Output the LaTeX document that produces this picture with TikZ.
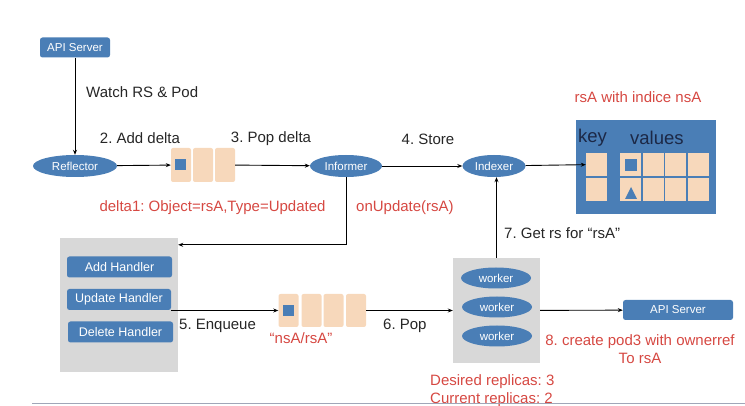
\documentclass[tikz,border=0pt]{standalone}
\usepackage{fontspec}
\setmainfont{Liberation Sans}
\usetikzlibrary{shapes.geometric,arrows.meta,calc}
\definecolor{kblue}{RGB}{74,126,182}
\definecolor{peach}{RGB}{247,216,187}
\definecolor{boxgray}{RGB}{216,216,216}
\definecolor{kred}{RGB}{214,72,66}
\definecolor{navy}{RGB}{28,40,70}
\definecolor{rulecol}{RGB}{160,166,184}
\frenchspacing
\begin{document}
\begin{tikzpicture}[x=1pt,y=-1pt,
  bluerect/.style={rectangle,rounded corners=2.5pt,fill=kblue,text=white,inner sep=0pt,font=\fontsize{11.5}{13}\selectfont},
  blueell/.style={ellipse,fill=kblue,text=white,inner sep=0pt,font=\fontsize{11.5}{13}\selectfont},
  qcell/.style={rectangle,rounded corners=2pt,fill=peach,inner sep=0pt,minimum width=20pt,minimum height=34pt},
  scell/.style={rectangle,fill=peach,inner sep=0pt,minimum width=21pt,minimum height=23pt},
  bsq/.style={rectangle,fill=kblue,inner sep=0pt,minimum size=11pt},
  gbox/.style={rectangle,fill=boxgray,inner sep=0pt},
  arr/.style={draw=black,line width=0.9pt,-{Stealth[length=5pt,width=4pt]}},
  lbl/.style={inner sep=0pt,font=\frenchspacing\fontsize{15}{18}\selectfont,text=black!85},
  rlbl/.style={inner sep=0pt,font=\frenchspacing\fontsize{15}{18}\selectfont,text=kred},
]
\useasboundingbox (0,0) rectangle (745,406);

% top row
\node[bluerect,minimum width=70pt,minimum height=20pt] (api1) at (75,47.5) {API Server};
\node[blueell,minimum width=84pt,minimum height=22pt] (refl) at (75,166) {Reflector};
\node[qcell] (q1a) at (181,165) {};
\node[qcell] (q1b) at (203,165) {};
\node[qcell] (q1c) at (225,165) {};
\node[bsq] (q1sq) at (180.5,164.5) {};
\node[blueell,minimum width=72pt,minimum height=22pt] (inf) at (346,166) {Informer};
\node[blueell,minimum width=63pt,minimum height=22pt] (idx) at (494,166) {Indexer};

% store
\node[rectangle,fill=kblue,inner sep=0pt,minimum width=140pt,minimum height=94pt] (store) at (646,167) {};
\node[anchor=west,inner sep=0pt,font=\fontsize{18.5}{20}\selectfont,text=navy] (keyl) at (578,138) {key};
\node[anchor=west,inner sep=0pt,font=\fontsize{18.5}{20}\selectfont,text=navy] (vall) at (630,138) {values};
\node[scell] (k1) at (596.5,164.5) {};
\node[scell] (k2) at (596.5,190) {};
\node[scell] (v11) at (630.5,164.5) {};
\node[scell] (v12) at (653,164.5) {};
\node[scell] (v13) at (675.5,164.5) {};
\node[scell] (v14) at (698,164.5) {};
\node[scell] (v21) at (630.5,190) {};
\node[scell] (v22) at (653,190) {};
\node[scell] (v23) at (675.5,190) {};
\node[scell] (v24) at (698,190) {};
\node[bsq,minimum size=12pt] (vsq) at (631,165.5) {};
\fill[kblue] (625,199) -- (637,199) -- (631,187) -- cycle;

% handlers
\node[gbox,minimum width=118pt,minimum height=134pt] (hbox) at (119,305) {};
\node[bluerect,minimum width=105pt,minimum height=21pt,font=\fontsize{12.5}{14}\selectfont] (addh) at (119.5,267) {Add Handler};
\node[bluerect,minimum width=104pt,minimum height=21pt,font=\fontsize{12.5}{14}\selectfont] (updh) at (119,299.5) {Update Handler};
\node[bluerect,minimum width=105pt,minimum height=21pt,font=\fontsize{12.5}{14}\selectfont] (delh) at (120.5,332) {Delete Handler};

% queue 2
\node[qcell,minimum height=33pt] (q2a) at (288.5,310.5) {};
\node[qcell,minimum height=33pt] (q2b) at (311.5,310.5) {};
\node[qcell,minimum height=33pt] (q2c) at (333.5,310.5) {};
\node[qcell,minimum height=33pt] (q2d) at (356,310.5) {};
\node[bsq] (q2sq) at (288,311) {};

% workers
\node[gbox,minimum width=87pt,minimum height=105pt] (wbox) at (496.5,310.5) {};
\node[blueell,minimum width=70pt,minimum height=21pt] (w1) at (496,278) {worker};
\node[blueell,minimum width=70pt,minimum height=21pt] (w2) at (497,307) {worker};
\node[blueell,minimum width=70pt,minimum height=21pt] (w3) at (497,336) {worker};
\node[bluerect,minimum width=110pt,minimum height=20pt] (api2) at (678,310) {API Server};

% connectors
\draw[arr] (api1.south) -- (api1.south |- refl.north);
\draw[arr] (refl) -- (q1a);
\draw[arr] (q1c) -- (inf);
\draw[arr] (inf) -- (idx);
\draw[arr] (idx) -- (k1);
\draw[arr] (inf.south) |- ($(hbox.north east)+(0,7)$);
\draw[arr] (updh.east |- q2a) -- (q2a);
\draw[arr] (q2d) -- (wbox);
\draw[arr] (wbox.north) -- (wbox.north |- idx.south);
\draw[arr] (wbox) -- (api2);

% labels
\node[lbl,anchor=west] (watch) at (86,92) {Watch RS \& Pod};
\node[lbl] (addd) at (140,138) {2. Add delta};
\node[lbl] (popd) at (271,139) {3. Pop delta};
\node[lbl] (store4) at (428,139) {4. Store};
\node[rlbl] (delta1) at (212.5,208) {delta1: Object=rsA,Type=Updated};
\node[rlbl,anchor=west] (onupd) at (356,208) {onUpdate(rsA)};
\node[rlbl] (rsaidx) at (638,97) {rsA with indice nsA};
\node[lbl,anchor=west] (get7) at (504,233) {7. Get rs for “rsA”};
\node[lbl,anchor=west] (enq) at (179,326) {5. Enqueue};
\node[rlbl] (nsars) at (301,338) {“nsA/rsA”};
\node[lbl,anchor=west] (pop6) at (383,326) {6. Pop};
\node[rlbl,align=center] (create8) at (640,349) {8. create pod3 with ownerref\\To rsA};
\node[rlbl,anchor=west,align=left] (repl) at (430,391) {Desired replicas: 3\\Current replicas: 2};

\draw[rulecol,line width=1.2pt] (32,403.5) -- (745,403.5);
\end{tikzpicture}
\end{document}
